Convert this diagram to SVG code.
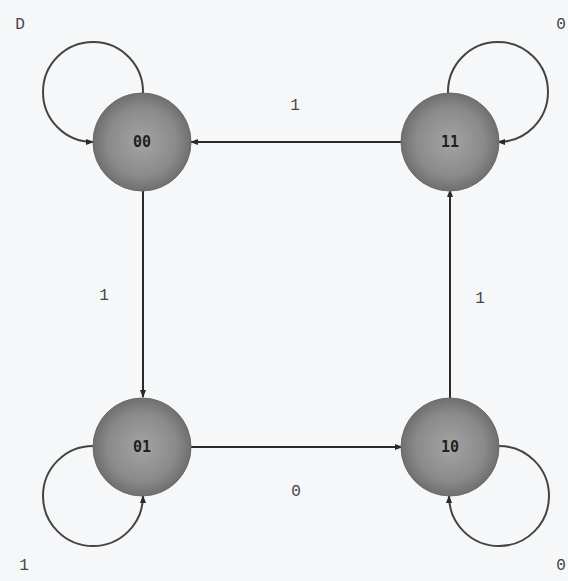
<svg xmlns="http://www.w3.org/2000/svg" width="568" height="581" viewBox="0 0 568 581">
<style>
.edge{fill:none;stroke:#2a2a2a;stroke-width:2}
.loop{fill:none;stroke:#444;stroke-width:2}
.node{fill:url(#g);stroke:#6a6a6a;stroke-width:1}
.nl{font-family:"DejaVu Sans Mono","Liberation Mono",monospace;font-weight:bold;font-size:15px;fill:#222;text-anchor:middle}
.el{font-family:"Liberation Mono","DejaVu Sans Mono",monospace;font-size:16px;fill:#444;text-anchor:middle}
</style>
<defs>
<radialGradient id="g" cx="50%" cy="50%" r="50%">
<stop offset="0" stop-color="#a4a4a4"/>
<stop offset="0.7" stop-color="#8a8a8a"/>
<stop offset="1" stop-color="#6f6f6f"/>
</radialGradient>
<marker id="a" markerWidth="8" markerHeight="8" refX="7" refY="4" orient="auto" markerUnits="userSpaceOnUse">
<path d="M0,1 L8,4 L0,7 Z" fill="#2a2a2a"/>
</marker>
</defs>
<rect width="568" height="581" fill="#f5f7f9"/>
<g id="connectors">
<path class="edge" d="M402,142 L191,142" marker-end="url(#a)"/>
<path class="edge" d="M143,190 L143,397" marker-end="url(#a)"/>
<path class="edge" d="M191,447 L402,447" marker-end="url(#a)"/>
<path class="edge" d="M450,398 L450,190" marker-end="url(#a)"/>
<path class="loop" d="M143,93 A50,50 0 1 0 93,142" marker-end="url(#a)"/>
<path class="loop" d="M448,93 A50,50 0 1 1 498,142" marker-end="url(#a)"/>
<path class="loop" d="M93,446 A50,50 0 1 0 143,496" marker-end="url(#a)"/>
<path class="loop" d="M499,446 A50,50 0 1 1 449,496" marker-end="url(#a)"/>
<text class="el" x="295" y="110">1</text>
<text class="el" x="104" y="300">1</text>
<text class="el" x="480" y="303">1</text>
<text class="el" x="296" y="496">0</text>
<text class="el" x="20" y="29">D</text>
<text class="el" x="561" y="29">0</text>
<text class="el" x="24" y="570">1</text>
<text class="el" x="561" y="570">0</text>
</g>
<g id="n00"><circle class="node" cx="142" cy="142" r="49"/><text class="nl" x="142" y="147">00</text></g>
<g id="n11"><circle class="node" cx="450" cy="142" r="49"/><text class="nl" x="450" y="147">11</text></g>
<g id="n01"><circle class="node" cx="142" cy="447" r="49"/><text class="nl" x="142" y="452">01</text></g>
<g id="n10"><circle class="node" cx="450" cy="447" r="49"/><text class="nl" x="450" y="452">10</text></g>
</svg>
